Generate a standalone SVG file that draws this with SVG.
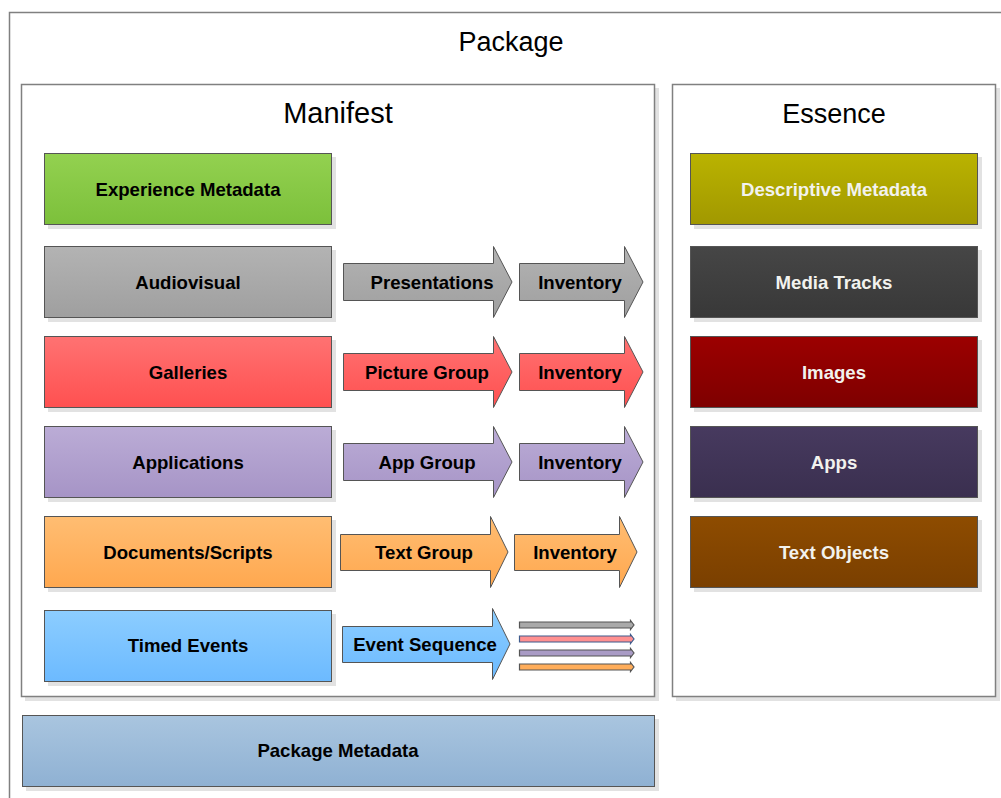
<svg xmlns="http://www.w3.org/2000/svg" width="1001" height="798" viewBox="0 0 1001 798">
<style>
.title{font-family:"Liberation Sans",Arial,sans-serif;font-size:27px;fill:#000;text-anchor:middle}
.lbl{font-family:"Liberation Sans",Arial,sans-serif;font-size:18.6px;font-weight:bold;fill:#000;text-anchor:middle}
.lblw{font-family:"Liberation Sans",Arial,sans-serif;font-size:18.6px;font-weight:bold;fill:#f2f2ee;text-anchor:middle}
.box{stroke:#555;stroke-width:1}
.frame{fill:#fff;stroke:#808080;stroke-width:1.5}
.sh{fill:#e2e2e2}
.arr{stroke:#555;stroke-width:1}
.sm{stroke:#555;stroke-width:1.2}
</style>
<defs>
<linearGradient id="gGreen" x1="0" y1="0" x2="0" y2="1"><stop offset="0" stop-color="#93d150"/><stop offset="1" stop-color="#7cc03b"/></linearGradient>
<linearGradient id="gGray" x1="0" y1="0" x2="0" y2="1"><stop offset="0" stop-color="#b3b3b3"/><stop offset="1" stop-color="#9f9f9f"/></linearGradient>
<linearGradient id="gRed" x1="0" y1="0" x2="0" y2="1"><stop offset="0" stop-color="#ff7272"/><stop offset="1" stop-color="#ff5050"/></linearGradient>
<linearGradient id="gPurple" x1="0" y1="0" x2="0" y2="1"><stop offset="0" stop-color="#bbacd6"/><stop offset="1" stop-color="#a694c6"/></linearGradient>
<linearGradient id="gOrange" x1="0" y1="0" x2="0" y2="1"><stop offset="0" stop-color="#ffbd72"/><stop offset="1" stop-color="#ffa84f"/></linearGradient>
<linearGradient id="gBlue" x1="0" y1="0" x2="0" y2="1"><stop offset="0" stop-color="#8ccdff"/><stop offset="1" stop-color="#6cbaff"/></linearGradient>
<linearGradient id="gSteel" x1="0" y1="0" x2="0" y2="1"><stop offset="0" stop-color="#a9c5df"/><stop offset="1" stop-color="#8fb1d3"/></linearGradient>
<linearGradient id="gOlive" x1="0" y1="0" x2="0" y2="1"><stop offset="0" stop-color="#bab300"/><stop offset="1" stop-color="#a19800"/></linearGradient>
<linearGradient id="gDark" x1="0" y1="0" x2="0" y2="1"><stop offset="0" stop-color="#464646"/><stop offset="1" stop-color="#383838"/></linearGradient>
<linearGradient id="gMaroon" x1="0" y1="0" x2="0" y2="1"><stop offset="0" stop-color="#9c0000"/><stop offset="1" stop-color="#7e0000"/></linearGradient>
<linearGradient id="gPlum" x1="0" y1="0" x2="0" y2="1"><stop offset="0" stop-color="#473a5f"/><stop offset="1" stop-color="#3a2f4f"/></linearGradient>
<linearGradient id="gBrown" x1="0" y1="0" x2="0" y2="1"><stop offset="0" stop-color="#8e4c00"/><stop offset="1" stop-color="#7a3f00"/></linearGradient>
</defs>
<rect width="1001" height="798" fill="#fff"/>

<g id="package">
<rect class="frame" x="9.5" y="12.5" width="1010" height="800"/>
<text class="title" x="511" y="51">Package</text>
</g>

<g id="manifest">
<rect class="sh" x="25" y="88" width="634" height="613"/>
<rect class="frame" x="21.5" y="84.5" width="633" height="612"/>
<text class="title" x="338" y="123" style="font-size:29px">Manifest</text>
</g>

<g id="essence">
<rect class="sh" x="676" y="88" width="324" height="613"/>
<rect class="frame" x="672.5" y="84.5" width="323" height="612"/>
<text class="title" x="834" y="123">Essence</text>
</g>

<g id="experience-metadata">
<rect class="sh" x="48" y="157" width="288" height="72"/>
<rect class="box" x="44.5" y="153.5" width="287" height="71" fill="url(#gGreen)"/>
<text class="lbl" x="188" y="196">Experience Metadata</text>
</g>
<g id="audiovisual">
<rect class="sh" x="48" y="250" width="288" height="72"/>
<rect class="box" x="44.5" y="246.5" width="287" height="71" fill="url(#gGray)"/>
<text class="lbl" x="188" y="289">Audiovisual</text>
</g>
<g id="galleries">
<rect class="sh" x="48" y="340" width="288" height="72"/>
<rect class="box" x="44.5" y="336.5" width="287" height="71" fill="url(#gRed)"/>
<text class="lbl" x="188" y="379">Galleries</text>
</g>
<g id="applications">
<rect class="sh" x="48" y="430" width="288" height="72"/>
<rect class="box" x="44.5" y="426.5" width="287" height="71" fill="url(#gPurple)"/>
<text class="lbl" x="188" y="469">Applications</text>
</g>
<g id="documents-scripts">
<rect class="sh" x="48" y="520" width="288" height="72"/>
<rect class="box" x="44.5" y="516.5" width="287" height="71" fill="url(#gOrange)"/>
<text class="lbl" x="188" y="559">Documents/Scripts</text>
</g>
<g id="timed-events">
<rect class="sh" x="48" y="614" width="288" height="72"/>
<rect class="box" x="44.5" y="610.5" width="287" height="71" fill="url(#gBlue)"/>
<text class="lbl" x="188" y="652">Timed Events</text>
</g>
<g id="package-metadata">
<rect class="sh" x="26" y="719" width="633" height="72"/>
<rect class="box" x="22.5" y="715.5" width="632" height="71" fill="url(#gSteel)"/>
<text class="lbl" x="338" y="757">Package Metadata</text>
</g>

<g id="descriptive-metadata">
<rect class="sh" x="694" y="157" width="288" height="72"/>
<rect class="box" x="690.5" y="153.5" width="287" height="71" fill="url(#gOlive)"/>
<text class="lblw" x="834" y="196">Descriptive Metadata</text>
</g>
<g id="media-tracks">
<rect class="sh" x="694" y="250" width="288" height="72"/>
<rect class="box" x="690.5" y="246.5" width="287" height="71" fill="url(#gDark)"/>
<text class="lblw" x="834" y="289">Media Tracks</text>
</g>
<g id="images">
<rect class="sh" x="694" y="340" width="288" height="72"/>
<rect class="box" x="690.5" y="336.5" width="287" height="71" fill="url(#gMaroon)"/>
<text class="lblw" x="834" y="379">Images</text>
</g>
<g id="apps">
<rect class="sh" x="694" y="430" width="288" height="72"/>
<rect class="box" x="690.5" y="426.5" width="287" height="71" fill="url(#gPlum)"/>
<text class="lblw" x="834" y="469">Apps</text>
</g>
<g id="text-objects">
<rect class="sh" x="694" y="520" width="288" height="72"/>
<rect class="box" x="690.5" y="516.5" width="287" height="71" fill="url(#gBrown)"/>
<text class="lblw" x="834" y="559">Text Objects</text>
</g>

<g id="presentations">
<polygon class="arr" fill="url(#gGray)" points="343.5,263.5 493.5,263.5 493.5,246.5 512,282 493.5,317.5 493.5,300.5 343.5,300.5"/>
<text class="lbl" x="432" y="289">Presentations</text>
</g>
<g id="inventory-av">
<polygon class="arr" fill="url(#gGray)" points="519.5,263.5 624.5,263.5 624.5,246.5 643,282 624.5,317.5 624.5,300.5 519.5,300.5"/>
<text class="lbl" x="580" y="289">Inventory</text>
</g>
<g id="picture-group">
<polygon class="arr" fill="url(#gRed)" points="343.5,353.5 493.5,353.5 493.5,336.5 512,372 493.5,407.5 493.5,390.5 343.5,390.5"/>
<text class="lbl" x="427" y="379">Picture Group</text>
</g>
<g id="inventory-gal">
<polygon class="arr" fill="url(#gRed)" points="519.5,353.5 624.5,353.5 624.5,336.5 643,372 624.5,407.5 624.5,390.5 519.5,390.5"/>
<text class="lbl" x="580" y="379">Inventory</text>
</g>
<g id="app-group">
<polygon class="arr" fill="url(#gPurple)" points="343.5,443.5 493.5,443.5 493.5,426.5 512,462 493.5,497.5 493.5,480.5 343.5,480.5"/>
<text class="lbl" x="427" y="469">App Group</text>
</g>
<g id="inventory-app">
<polygon class="arr" fill="url(#gPurple)" points="519.5,443.5 624.5,443.5 624.5,426.5 643,462 624.5,497.5 624.5,480.5 519.5,480.5"/>
<text class="lbl" x="580" y="469">Inventory</text>
</g>
<g id="text-group">
<polygon class="arr" fill="url(#gOrange)" points="340.5,534.5 490.5,534.5 490.5,516.5 508,552 490.5,587.5 490.5,570.5 340.5,570.5"/>
<text class="lbl" x="424" y="559">Text Group</text>
</g>
<g id="inventory-doc">
<polygon class="arr" fill="url(#gOrange)" points="514.5,534.5 619.5,534.5 619.5,516.5 637,552 619.5,587.5 619.5,570.5 514.5,570.5"/>
<text class="lbl" x="575" y="559">Inventory</text>
</g>
<g id="event-sequence">
<polygon class="arr" fill="url(#gBlue)" points="342.5,626.5 492.5,626.5 492.5,608.5 510,644 492.5,679.5 492.5,662.5 342.5,662.5"/>
<text class="lbl" x="425" y="651">Event Sequence</text>
</g>

<g id="connectors">
<polygon class="sm" fill="#a9a9a9" points="519.5,622 630.5,622 630.5,620.5 634,625 630.5,629.5 630.5,628 519.5,628"/>
<polygon class="sm" fill="#ff9090" style="stroke:#3f5b8c" points="519.5,636 630.5,636 630.5,634.5 634,639 630.5,643.5 630.5,642 519.5,642"/>
<polygon class="sm" fill="#a99bc5" points="519.5,650 630.5,650 630.5,648.5 634,653 630.5,657.5 630.5,656 519.5,656"/>
<polygon class="sm" fill="#ffad5a" points="519.5,664 630.5,664 630.5,662.5 634,667 630.5,671.5 630.5,670 519.5,670"/>
</g>
</svg>
